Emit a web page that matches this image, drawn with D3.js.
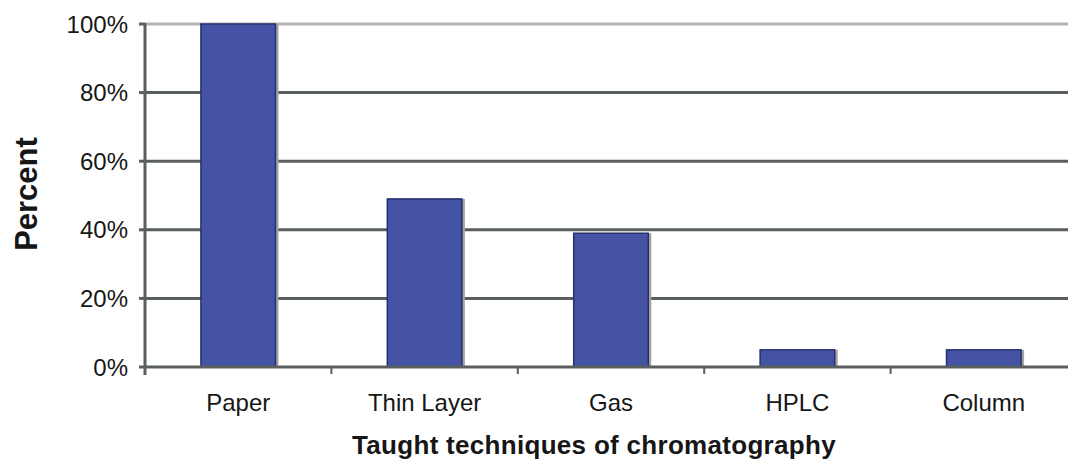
<!DOCTYPE html>
<html>
<head>
<meta charset="utf-8">
<script src="https://cdn.jsdelivr.net/npm/d3@7/dist/d3.min.js"></script>
<style>
  html, body { margin: 0; padding: 0; background: #fff; }
  svg { display: block; }
  text { font-family: "Liberation Sans", Arial, sans-serif; fill: #161616; }
</style>
</head>
<body>
<svg id="chart" width="1068" height="461"></svg>
<script>
// Chromatography techniques taught (percent of respondents)
const categories = ["Paper", "Thin Layer", "Gas", "HPLC", "Column"];
const percents = [100, 49, 39, 5, 5];
const yTicks = [0, 20, 40, 60, 80, 100];

const svg = d3.select("#chart");
const plotLeft = 145, plotRight = 1077, plotTop = 24, plotBottom = 367;

const x = d3.scaleBand().domain(categories).range([plotLeft, plotRight])
  .paddingInner(0.6).paddingOuter(0.3);
const y = d3.scaleLinear().domain([0, 100]).range([plotBottom, plotTop]);
const halfGap = (x.step() - x.bandwidth()) / 2;

// horizontal gridlines (top one lighter, acting as plot border)
svg.append("g").selectAll("line").data(yTicks.filter(t => t > 0)).join("line")
  .attr("x1", plotLeft).attr("x2", 1068)
  .attr("y1", d => y(d)).attr("y2", d => y(d))
  .attr("stroke", d => d === 100 ? "#b4b4b4" : "#595e5e")
  .attr("stroke-width", 3);

// bars with a soft grey drop shadow on the right
const bars = svg.append("g");
bars.selectAll("rect.shadow").data(categories).join("rect")
  .attr("class", "shadow")
  .attr("x", d => x(d) + 3)
  .attr("y", (d, i) => y(percents[i]))
  .attr("width", x.bandwidth())
  .attr("height", (d, i) => plotBottom - y(percents[i]))
  .attr("fill", "#a2a2a2");
bars.selectAll("rect.bar").data(categories).join("rect")
  .attr("class", "bar")
  .attr("x", d => x(d))
  .attr("y", (d, i) => y(percents[i]))
  .attr("width", x.bandwidth())
  .attr("height", (d, i) => plotBottom - y(percents[i]))
  .attr("fill", "#4453a3")
  .attr("stroke", "#27306e")
  .attr("stroke-width", 1.5);

// x axis line and category boundary ticks
svg.append("line").attr("x1", plotLeft).attr("x2", 1068)
  .attr("y1", plotBottom).attr("y2", plotBottom)
  .attr("stroke", "#595e5e").attr("stroke-width", 3);
svg.append("g").selectAll("line").data(categories).join("line")
  .attr("x1", d => x(d) - halfGap).attr("x2", d => x(d) - halfGap)
  .attr("y1", plotBottom).attr("y2", plotBottom + 7)
  .attr("stroke", "#595e5e").attr("stroke-width", 2);

// y axis line and ticks
svg.append("line").attr("x1", plotLeft).attr("x2", plotLeft)
  .attr("y1", plotTop - 1).attr("y2", plotBottom + 8)
  .attr("stroke", "#595e5e").attr("stroke-width", 3);
svg.append("g").selectAll("line").data(yTicks).join("line")
  .attr("x1", plotLeft - 6).attr("x2", plotLeft)
  .attr("y1", d => y(d)).attr("y2", d => y(d))
  .attr("stroke", "#595e5e").attr("stroke-width", 3);

// y tick labels
svg.append("g").selectAll("text").data(yTicks).join("text")
  .attr("x", 128).attr("y", d => y(d) + 8.5)
  .attr("text-anchor", "end")
  .style("font-size", "24px")
  .text(d => d + "%");

// category labels
svg.append("g").selectAll("text").data(categories).join("text")
  .attr("x", d => x(d) + x.bandwidth() / 2)
  .attr("y", 411)
  .attr("text-anchor", "middle")
  .style("font-size", "24px")
  .text(d => d);

// axis titles
svg.append("text")
  .attr("x", 594).attr("y", 454)
  .attr("text-anchor", "middle")
  .style("font-size", "26px").style("font-weight", "bold")
  .style("letter-spacing", "0.3px")
  .text("Taught techniques of chromatography");
svg.append("text")
  .attr("transform", "translate(37,194) rotate(-90)")
  .attr("text-anchor", "middle")
  .style("font-size", "31px").style("font-weight", "bold")
  .text("Percent");
</script>
</body>
</html>
